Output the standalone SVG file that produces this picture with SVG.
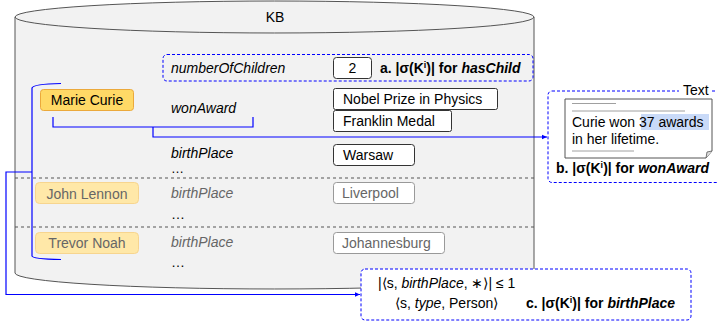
<svg xmlns="http://www.w3.org/2000/svg" width="717" height="326" viewBox="0 0 717 326">
<defs>
<marker id="arr" viewBox="0 0 8 8" refX="7" refY="4" markerWidth="6" markerHeight="6" markerUnits="userSpaceOnUse" orient="auto">
<path d="M0,1 L7,4 L0,7 Z" fill="#0000ff"/>
</marker>
</defs>
<style>
text{font-family:"Liberation Sans",Arial,sans-serif;font-size:14px;fill:#000}
.it{font-style:italic}
.b{font-weight:bold}
.g{fill:#666}
.dots{font-size:13px}
.val{fill:#fff;stroke:#333;stroke-width:1}
.valg{fill:#fff;stroke:#999;stroke-width:1}
.ent{fill:#ffd966;stroke:#eba93b;stroke-width:1}
.entg{fill:#ffe8a8;stroke:#f7d58f;stroke-width:1}
.dash{fill:#fff;stroke:#0000ff;stroke-width:1;stroke-dasharray:3 2}
.sep{stroke:#555;stroke-width:1;stroke-dasharray:3 3;fill:none}
.conn{fill:none;stroke:#0000ff;stroke-width:1.2}
.ln{stroke:#888;stroke-width:0.8}
</style>

<g id="kb">
<path d="M15,17 A259.5,16 0 0 1 534,17 L534,273 A259.5,16 0 0 1 15,273 Z" fill="#f2f2f2" stroke="#555" stroke-width="1"/>
<path d="M15,17 A259.5,16 0 0 0 534,17" fill="none" stroke="#555" stroke-width="1"/>
<text x="275" y="22" text-anchor="middle">KB</text>
<line class="sep" x1="15" y1="178" x2="534" y2="178"/>
<line class="sep" x1="15" y1="227" x2="534" y2="227"/>
</g>

<g id="box-a">
<rect class="dash" x="163" y="54.5" width="370" height="26.5" rx="4" style="fill:none"/>
<text class="it" x="171" y="73">numberOfChildren</text>
<rect class="val" x="333.5" y="57.5" width="38" height="21" rx="3"/>
<text x="352.5" y="73" text-anchor="middle">2</text>
<text class="b" x="380" y="73">a. |σ(K<tspan font-size="9" dy="-5">i</tspan><tspan dy="5">)| for </tspan><tspan class="it">hasChild</tspan></text>
</g>

<g id="marie-curie">
<rect class="ent" x="40.5" y="89.5" width="93" height="21" rx="3"/>
<text x="87" y="105" text-anchor="middle">Marie Curie</text>
<text class="it" x="171" y="113">wonAward</text>
<rect class="val" x="333.5" y="88.5" width="164" height="21" rx="2"/>
<text x="343" y="104">Nobel Prize in Physics</text>
<rect class="val" x="333.5" y="110.5" width="118" height="21" rx="2"/>
<text x="343" y="126">Franklin Medal</text>
<text class="it" x="171" y="158">birthPlace</text>
<text class="dots" x="171" y="173">…</text>
<rect class="val" x="333.5" y="144.5" width="81" height="21" rx="3"/>
<text x="343" y="160">Warsaw</text>
</g>

<g id="john-lennon">
<rect class="entg" x="35.5" y="182.5" width="103" height="21" rx="4"/>
<text class="g" x="87" y="199" text-anchor="middle">John Lennon</text>
<text class="it g" x="171" y="198">birthPlace</text>
<text x="171" y="219">…</text>
<rect class="valg" x="333.5" y="182.5" width="81" height="21" rx="3"/>
<text class="g" x="342" y="198">Liverpool</text>
</g>

<g id="trevor-noah">
<rect class="entg" x="35.5" y="232.5" width="103" height="21" rx="4"/>
<text class="g" x="87" y="248" text-anchor="middle">Trevor Noah</text>
<text class="it g" x="171" y="247">birthPlace</text>
<text x="171" y="267">…</text>
<rect class="valg" x="333.5" y="232.5" width="111" height="21" rx="3"/>
<text class="g" x="342" y="248">Johannesburg</text>
</g>

<g id="box-b">
<rect class="dash" x="548" y="91" width="175" height="91.5" rx="4"/>
<rect x="679" y="86" width="33" height="11" fill="#fff"/>
<text x="683" y="95">Text</text>
<path d="M565,99 L712,99 L712,151 L706,158 L565,158 Z" fill="#fff" stroke="#555" stroke-width="1"/>
<path d="M712,151 L707,152 L706,158" fill="#ddd" stroke="#555" stroke-width="0.8"/>
<line class="ln" x1="572" y1="103.5" x2="616" y2="103.5"/>
<line class="ln" x1="572" y1="111" x2="685" y2="111"/>
<rect x="641" y="114" width="68" height="16" fill="#c9daf8"/>
<text x="572" y="127">Curie won 37 awards</text>
<text x="572" y="144">in her lifetime.</text>
<line class="ln" x1="572" y1="151" x2="634" y2="151"/>
<text class="b" x="556" y="173">b. |σ(K<tspan font-size="9" dy="-5">i</tspan><tspan dy="5">)| for </tspan><tspan class="it">wonAward</tspan></text>
</g>

<g id="box-c">
<rect class="dash" x="361" y="269" width="330" height="51" rx="4"/>
<text x="378" y="288">|⟨s, <tspan class="it">birthPlace</tspan>, ∗⟩| ≤ 1</text>
<text x="395" y="308">⟨s, <tspan class="it">type</tspan>, Person⟩</text>
<text class="b" x="526" y="308">c. |σ(K<tspan font-size="9" dy="-5">i</tspan><tspan dy="5">)| for </tspan><tspan class="it">birthPlace</tspan></text>
</g>

<g id="connectors">
<path class="conn" d="M53,117 L53,127 L253,127 L253,117"/>
<path class="conn" d="M153,127 L153,137 L547,137" marker-end="url(#arr)"/>
<path class="conn" d="M61,83.5 Q33,84 32,88 L32,256 Q32,259 61,259.5"/>
<path class="conn" d="M32,172 L6,172 L6,294.5 L360,294.5" marker-end="url(#arr)"/>
</g>
</svg>
